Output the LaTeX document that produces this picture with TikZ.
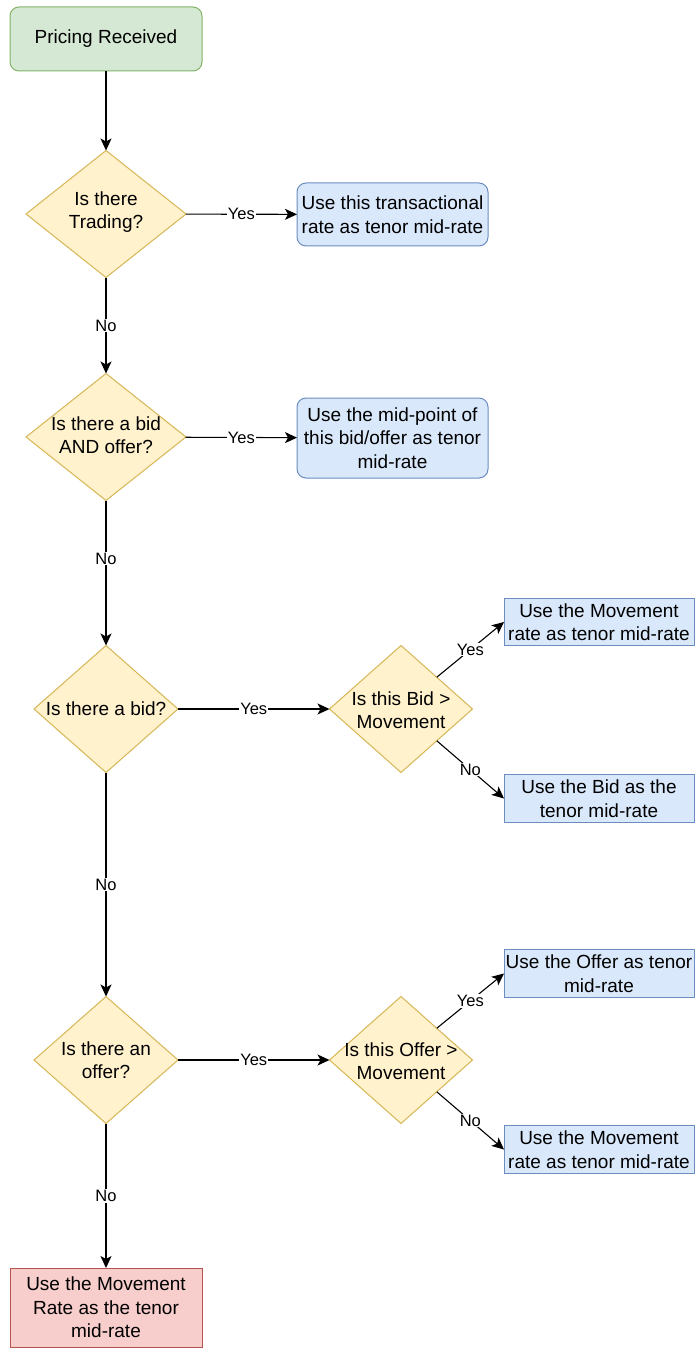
\documentclass[tikz,border=0pt]{standalone}
\usepackage{fontspec}
\setmainfont{Liberation Sans}
\usetikzlibrary{shapes.geometric,arrows.meta}
\definecolor{yfill}{HTML}{FFF2CC}
\definecolor{ydraw}{HTML}{D6B656}
\definecolor{bfill}{HTML}{DAE8FC}
\definecolor{bdraw}{HTML}{6C8EBF}
\definecolor{gfill}{HTML}{D5E8D4}
\definecolor{gdraw}{HTML}{82B366}
\definecolor{rfill}{HTML}{F8CECC}
\definecolor{rdraw}{HTML}{B85450}
\tikzset{
  every node/.style={font=\fontsize{19}{23.5}\selectfont},
  dia/.style={shape=diamond, draw=ydraw, fill=yfill, line width=1pt, inner sep=0pt, outer sep=0pt,
    minimum width=#1, minimum height=127},
  dia/.default=160,
  dtext/.style={align=center, inner sep=0pt},
  rbox/.style={draw=bdraw, fill=bfill, line width=1pt, rounded corners=9pt, align=center, inner sep=0pt, outer sep=0pt,
    minimum width=191, minimum height=#1},
  sbox/.style={draw=bdraw, fill=bfill, line width=1pt, align=center, inner sep=0pt, outer sep=0pt,
    minimum width=190, minimum height=47.5},
  startbox/.style={draw=gdraw, fill=gfill, line width=1pt, rounded corners=9pt, align=center, inner sep=0pt, outer sep=0pt,
    minimum width=192, minimum height=64},
  endbox/.style={draw=rdraw, fill=rfill, line width=1pt, align=center, inner sep=0pt, outer sep=0pt,
    minimum width=192, minimum height=79},
  conn/.style={line width=1.1pt, -{Stealth[length=12pt,width=11pt,inset=3pt]}},
  elab/.style={fill=white, inner sep=1pt, font=\fontsize{16.5}{20}\selectfont},
}
\begin{document}
\begin{tikzpicture}[x=1pt,y=-1pt]
\useasboundingbox (0,0) rectangle (695,1348);
\fill[white] (0,0) rectangle (695,1348);

\node[startbox] (start) at (106,39) {Pricing Received};

\node[dia] (d1) at (106,214) {};
\node[dtext] (t1) at (106,212) {Is there\\Trading?};
\node[rbox=63] (b1) at (392.5,214.5) {Use this transactional\\rate as tenor mid-rate};

\node[dia] (d2) at (106,437) {};
\node[dtext] (t2) at (106,435) {Is there a bid\\AND offer?};
\node[rbox=80] (b2) at (392.5,438) {Use the mid-point of\\this bid/offer as tenor\\mid-rate};

\node[dia=144] (d3) at (106,709) {};
\node[dtext] (t3) at (106,709) {Is there a bid?};
\node[dia=143] (d4) at (401,709) {};
\node[dtext] (t4) at (401,710) {Is this Bid \textgreater\\Movement};
\node[sbox] (b3) at (599,622) {Use the Movement\\rate as tenor mid-rate};
\node[sbox] (b4) at (599,798.5) {Use the Bid as the\\tenor mid-rate};

\node[dia=144] (d5) at (106,1060) {};
\node[dtext] (t5) at (106,1060) {Is there an\\offer?};
\node[dia=143] (d6) at (401,1060) {};
\node[dtext] (t6) at (401,1061) {Is this Offer \textgreater\\Movement};
\node[sbox] (b5) at (599,973.5) {Use the Offer as tenor\\mid-rate};
\node[sbox] (b6) at (599,1149.5) {Use the Movement\\rate as tenor mid-rate};

\node[endbox] (end) at (106,1307.5) {Use the Movement\\Rate as the tenor\\mid-rate};

\draw[conn] (start) -- (d1);
\draw[conn] (d1) -- node[elab] {Yes} (b1);
\draw[conn] (d1) -- node[elab] {No} (d2);
\draw[conn] (d2) -- node[elab] {Yes} (b2);
\draw[conn] (d2) -- node[elab, pos=0.4] {No} (d3);
\draw[conn] (d3) -- node[elab] {Yes} (d4);
\draw[conn] (d4.north east) -- node[elab] {Yes} (b3.west);
\draw[conn] (d4.south east) -- node[elab] {No} (b4.west);
\draw[conn] (d3) -- node[elab] {No} (d5);
\draw[conn] (d5) -- node[elab] {Yes} (d6);
\draw[conn] (d6.north east) -- node[elab] {Yes} (b5.west);
\draw[conn] (d6.south east) -- node[elab] {No} (b6.west);
\draw[conn] (d5) -- node[elab] {No} (end);
\end{tikzpicture}
\end{document}
